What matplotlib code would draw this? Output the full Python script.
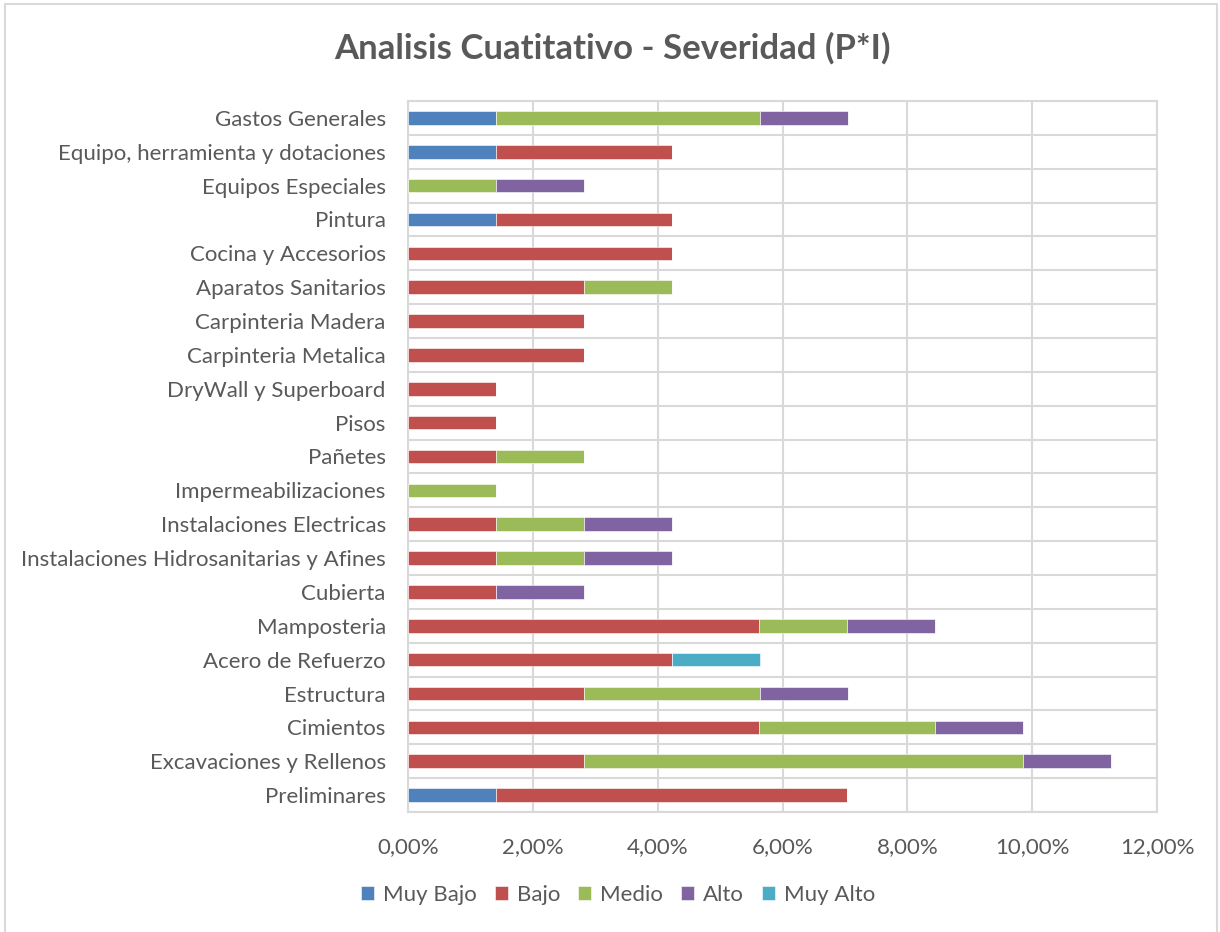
import matplotlib.pyplot as plt
import numpy as np
from matplotlib.patches import Rectangle

# categories from bottom to top
categories = ['Preliminares', 'Excavaciones y Rellenos', 'Cimientos', 'Estructura',
              'Acero de Refuerzo', 'Mamposteria', 'Cubierta',
              'Instalaciones Hidrosanitarias y Afines', 'Instalaciones Electricas',
              'Impermeabilizaciones', 'Pañetes', 'Pisos', 'DryWall y Superboard',
              'Carpinteria Metalica', 'Carpinteria Madera', 'Aparatos Sanitarios',
              'Cocina y Accesorios', 'Pintura', 'Equipos Especiales',
              'Equipo, herramienta y dotaciones', 'Gastos Generales']

# values in % (each step is 1/71)
muy_bajo = [1.41, 0, 0, 0, 0, 0, 0, 0, 0, 0, 0, 0, 0, 0, 0, 0, 0, 1.41, 0, 1.41, 1.41]
bajo     = [5.63, 2.82, 5.63, 2.82, 4.23, 5.63, 1.41, 1.41, 1.41, 0, 1.41, 1.41, 1.41,
            2.82, 2.82, 2.82, 4.23, 2.82, 0, 2.82, 0]
medio    = [0, 7.04, 2.82, 2.82, 0, 1.41, 0, 1.41, 1.41, 1.41, 1.41, 0, 0,
            0, 0, 1.41, 0, 0, 1.41, 0, 4.23]
alto     = [0, 1.41, 1.41, 1.41, 0, 1.41, 1.41, 1.41, 1.41, 0, 0, 0, 0,
            0, 0, 0, 0, 0, 1.41, 0, 1.41]
muy_alto = [0, 0, 0, 0, 1.41, 0, 0, 0, 0, 0, 0, 0, 0, 0, 0, 0, 0, 0, 0, 0, 0]

series = ['Muy Bajo', 'Bajo', 'Medio', 'Alto', 'Muy Alto']
xticks = [0, 2, 4, 6, 8, 10, 12]
xticklabels = ['0,00%', '2,00%', '4,00%', '6,00%', '8,00%', '10,00%', '12,00%']

colors = ['#4F81BD', '#C0504D', '#9BBB59', '#8064A2', '#4BACC6']
grid_color = '#D9D9D9'
text_color = '#595959'

plt.rcParams['font.family'] = ['Lato', 'DejaVu Sans']

fig = plt.figure(figsize=(12.2, 9.32), dpi=100)
# plot area in pixels: left 408, right 1157, top 101, bottom 812
ax = fig.add_axes([408 / 1220, 1 - 812 / 932, (1157 - 408) / 1220, (812 - 101) / 932])

# outer chart border
fig.patches.append(Rectangle((5 / 1220, -0.01), 1212 / 1220, 1 - 4 / 932 + 0.01,
                             transform=fig.transFigure, fill=False,
                             edgecolor=grid_color, linewidth=1.5))

y = np.arange(len(categories))
left = np.zeros(len(categories))
for name, vals, c in zip(series, [muy_bajo, bajo, medio, alto, muy_alto], colors):
    vals = np.array(vals)
    ax.barh(y, vals, left=left, height=0.4, color=c, label=name,
            edgecolor='white', linewidth=0.4, zorder=3)
    left += vals

ax.set_xlim(0, 12)
ax.set_ylim(-0.5, len(categories) - 0.5)
ax.set_xticks(xticks)
ax.set_xticklabels(xticklabels)
ax.set_yticks(y)
ax.set_yticklabels(categories)
ax.set_yticks(np.arange(-0.5, len(categories), 1), minor=True)
ax.grid(True, axis='x', color=grid_color, linewidth=1.5, zorder=0)
ax.grid(True, axis='y', which='minor', color=grid_color, linewidth=1.5, zorder=0)
ax.tick_params(axis='both', which='both', length=0, labelsize=16, colors=text_color)
ax.tick_params(axis='x', pad=18)
ax.tick_params(axis='y', pad=16)
for s in ax.spines.values():
    s.set_color(grid_color)
    s.set_linewidth(1.5)

fig.text(0.502, 1 - 48 / 932, 'Analisis Cuatitativo - Severidad (P*I)', ha='center',
         va='center', fontsize=25, fontweight='bold', color=text_color)

leg = fig.legend(loc='center', bbox_to_anchor=(618 / 1220, 1 - 895 / 932), ncol=5,
                 frameon=False, fontsize=16, handlelength=0.6, handleheight=0.6,
                 handletextpad=0.4, columnspacing=0.8, labelcolor=text_color)

plt.savefig('out.png', dpi=100)
plt.close()
